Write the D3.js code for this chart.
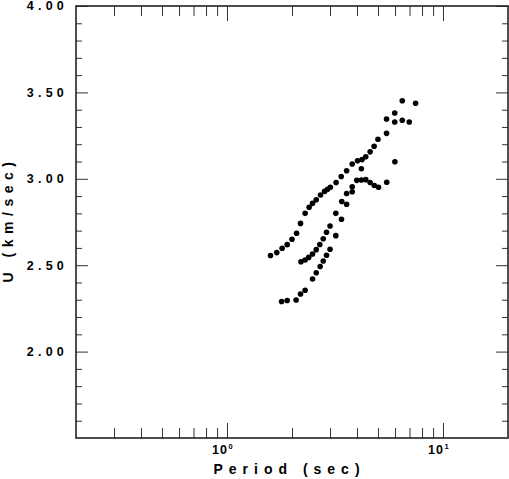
<!DOCTYPE html>
<html>
<head>
<meta charset="utf-8">
<script src="https://cdn.jsdelivr.net/npm/d3@7"></script>
<style>
  body { margin: 0; background: #fff; }
  svg { display: block; font-family: "Liberation Sans", Arial, sans-serif; }
</style>
</head>
<body>
<svg width="509" height="479"></svg>
<script>
// DATA (period in sec, group velocity U in km/sec)

var branchAPeriod = [1.59, 1.70, 1.80, 1.90, 2.00, 2.10, 2.19, 2.30, 2.40, 2.49, 2.59, 2.71, 2.83, 2.92, 3.01, 3.20, 3.38, 3.58, 3.80, 4.02, 4.22, 4.39, 4.60, 4.80, 5.00, 5.48];
var branchAU = [2.556, 2.573, 2.598, 2.619, 2.650, 2.685, 2.742, 2.800, 2.835, 2.858, 2.879, 2.906, 2.927, 2.939, 2.951, 2.979, 3.013, 3.047, 3.086, 3.104, 3.111, 3.128, 3.156, 3.188, 3.229, 3.263];

var topPeriod = [5.48, 5.98, 6.48, 7.47, 5.98, 6.48, 6.98];
var topU = [3.346, 3.381, 3.452, 3.437, 3.329, 3.339, 3.329];

var branchBPeriod = [2.20, 2.30, 2.39, 2.49, 2.59, 2.69, 2.79, 2.89, 3.00, 3.19, 3.40, 3.58, 3.80, 3.99, 4.19, 4.39, 4.60, 4.81, 5.03, 5.49];
var branchBU = [2.520, 2.530, 2.545, 2.565, 2.590, 2.620, 2.653, 2.691, 2.727, 2.800, 2.869, 2.915, 2.954, 2.991, 2.993, 2.995, 2.979, 2.961, 2.951, 2.980];

var branchCPeriod = [1.79, 1.90, 2.09, 2.19, 2.30, 2.49, 2.59, 2.70, 2.79, 2.89, 3.00, 3.19, 3.39, 3.58, 3.80, 4.19, 5.99];
var branchCU = [2.290, 2.296, 2.299, 2.333, 2.355, 2.420, 2.456, 2.492, 2.524, 2.558, 2.592, 2.671, 2.766, 2.853, 2.925, 3.058, 3.099];

var xMajor = [1, 10];
var xMinor = [0.3, 0.4, 0.5, 0.6, 0.7, 0.8, 0.9, 2, 3, 4, 5, 6, 7, 8, 9];
var yMajor = [2.0, 2.5, 3.0, 3.5, 4.0];
var yMinor = [1.6, 1.7, 1.8, 1.9, 2.1, 2.2, 2.3, 2.4, 2.6, 2.7, 2.8, 2.9, 3.1, 3.2, 3.3, 3.4, 3.6, 3.7, 3.8, 3.9];
var xExponents = ["0", "1"];

// SETUP

var svg = d3.select("svg"),
  plotLeft = 76, plotRight = 508, plotTop = 6, plotBottom = 438;

var x = d3.scaleLog().domain([0.2, 20]).range([plotLeft, plotRight]),
  y = d3.scaleLinear().domain([1.5, 4.0]).range([plotBottom, plotTop]);

function zip(ps, us) {
  return ps.map(function (p, i) { return { p: p, u: us[i] }; });
}
var points = [].concat(
  zip(branchAPeriod, branchAU),
  zip(topPeriod, topU),
  zip(branchBPeriod, branchBU),
  zip(branchCPeriod, branchCU)
);

// ticks on all four sides, pointing inward
function ticks(axis, vals, size, transform) {
  var g = svg.append("g")
    .attr("transform", transform)
    .call(axis.tickValues(vals).tickSize(size).tickFormat(""));
  g.select(".domain").remove();
  g.selectAll("line").attr("stroke", "#333").attr("stroke-width", 1);
}

ticks(d3.axisBottom(x), xMinor, -10, "translate(0," + plotBottom + ")");
ticks(d3.axisBottom(x), xMajor, -15, "translate(0," + plotBottom + ")");
ticks(d3.axisTop(x), xMinor, -10, "translate(0," + plotTop + ")");
ticks(d3.axisTop(x), xMajor, -15, "translate(0," + plotTop + ")");
ticks(d3.axisLeft(y), yMinor, -6, "translate(" + plotLeft + ",0)");
ticks(d3.axisLeft(y), yMajor, -12, "translate(" + plotLeft + ",0)");
ticks(d3.axisRight(y), yMinor, -6, "translate(" + plotRight + ",0)");
ticks(d3.axisRight(y), yMajor, -12, "translate(" + plotRight + ",0)");

svg.append("rect")
  .attr("x", plotLeft).attr("y", plotTop)
  .attr("width", plotRight - plotLeft).attr("height", plotBottom - plotTop)
  .attr("fill", "none").attr("stroke", "#222").attr("stroke-width", 1.6);

// y tick labels
svg.append("g").selectAll("text")
  .data(yMajor)
  .enter().append("text")
  .attr("x", 68)
  .attr("y", function (d) { return y(d); })
  .attr("dy", "0.35em")
  .attr("text-anchor", "end")
  .style("font-size", "12.5px")
  .style("font-weight", "bold")
  .style("letter-spacing", "4.2px")
  .text(function (d) { return d3.format(".2f")(d); });

// x tick labels: 10 with superscript exponent
var xl = svg.append("g").selectAll("g")
  .data(xMajor)
  .enter().append("g");
xl.append("text")
  .attr("x", function (d) { return x(d) + 1; })
  .attr("y", 454)
  .attr("text-anchor", "end")
  .style("font-size", "12.5px")
  .style("font-weight", "bold")
  .style("letter-spacing", "1px")
  .text("10");
xl.append("text")
  .attr("x", function (d) { return x(d) + 1.5; })
  .attr("y", 449)
  .style("font-size", "7.5px")
  .style("font-weight", "bold")
  .text(function (d, i) { return xExponents[i]; });

// axis titles
svg.append("text")
  .attr("x", 289.5)
  .attr("y", 473.5)
  .attr("text-anchor", "middle")
  .style("font-size", "14px")
  .style("font-weight", "bold")
  .style("letter-spacing", "6px")
  .text("Period (sec)");

svg.append("text")
  .attr("transform", "translate(12.5,219.5) rotate(-90)")
  .attr("text-anchor", "middle")
  .style("font-size", "14px")
  .style("font-weight", "bold")
  .style("letter-spacing", "5.5px")
  .text("U (km/sec)");

// DRAWING

svg.append("g").selectAll("circle")
  .data(points)
  .enter().append("circle")
  .attr("cx", function (d) { return x(d.p); })
  .attr("cy", function (d) { return y(d.u); })
  .attr("r", 2.8)
  .attr("fill", "#000");
</script>
</body>
</html>
